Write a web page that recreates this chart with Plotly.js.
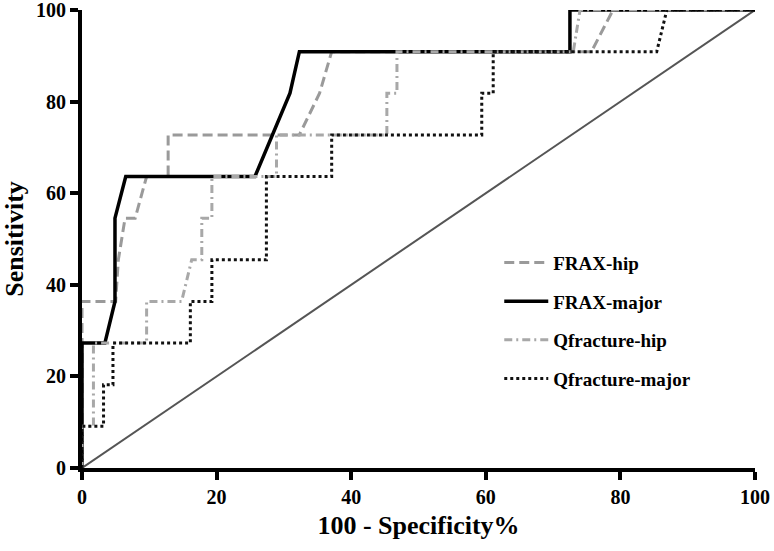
<!DOCTYPE html>
<html>
<head>
<meta charset="utf-8">
<script src="https://cdn.plot.ly/plotly-3.0.1.min.js"></script>
<style>
  html, body { margin: 0; padding: 0; background: #fff; }
  #draw { width: 774px; height: 551px; }
</style>
</head>
<body>
<div id="draw"></div>
<script>
// ROC curves, x = 100 - specificity (%), y = sensitivity (%)
const fraxHipX = [0, 0, 5.0, 5.4, 6.4, 7.9, 9.6, 12.8, 12.8, 32.3, 35.3, 37.1, 75.7, 78.9, 100]
const fraxHipY = [0, 36.36, 36.36, 45.45, 54.55, 54.55, 63.64, 63.64, 72.73, 72.73, 81.82, 90.91, 90.91, 100, 100]

const fraxMajorX = [0, 0, 3.4, 4.9, 4.9, 6.5, 25.7, 30.9, 32.3, 72.5, 72.5, 100]
const fraxMajorY = [0, 27.27, 27.27, 36.36, 54.55, 63.64, 63.64, 81.82, 90.91, 90.91, 100, 100]

const qfracHipX = [0, 0, 1.7, 1.7, 9.6, 9.6, 14.8, 16.3, 17.8, 17.8, 19.3, 19.3, 28.9, 28.9, 45.3, 45.3, 46.8, 46.8, 73.0, 74.0, 100]
const qfracHipY = [0, 9.09, 9.09, 27.27, 27.27, 36.36, 36.36, 45.45, 45.45, 54.55, 54.55, 63.64, 63.64, 72.73, 72.73, 81.82, 81.82, 90.91, 90.91, 100, 100]

const qfracMajorX = [0, 0, 3.2, 3.2, 4.6, 4.6, 16.1, 16.1, 19.3, 19.3, 27.4, 27.4, 37.1, 37.1, 59.4, 59.4, 61.1, 61.1, 85.4, 86.9, 100]
const qfracMajorY = [0, 9.09, 9.09, 18.18, 18.18, 27.27, 27.27, 36.36, 36.36, 45.45, 45.45, 63.64, 63.64, 72.73, 72.73, 81.82, 81.82, 90.91, 90.91, 100, 100]

const refX = [0, 100]
const refY = [0, 100]

const xTicks = [0, 20, 40, 60, 80, 100]
const yTicks = [0, 20, 40, 60, 80, 100]

const FONT = '"Liberation Serif", "Times New Roman", serif'

const main = () => {
  const traces = [
    {x: refX, y: refY, mode: 'lines', showlegend: false, hoverinfo: 'skip',
      line: {color: '#555555', width: 2}},
    {x: fraxHipX, y: fraxHipY, name: 'FRAX-hip', legendgroup: 'a',
      line: {color: '#9a9a9a', width: 3, dash: '10px,5px'}},
    {x: fraxMajorX, y: fraxMajorY, name: 'FRAX-major', legendgroup: 'b',
      line: {color: '#000000', width: 3.5}},
    {x: qfracHipX, y: qfracHipY, name: 'Qfracture-hip', legendgroup: 'c',
      line: {color: '#a8a8a8', width: 3, dash: '8px,4px,2px,4px'}},
    {x: qfracMajorX, y: qfracMajorY, name: 'Qfracture-major', legendgroup: 'd',
      line: {color: '#111111', width: 3, dash: '3px,3px'}},
  ].map(t => Object.assign({type: 'scatter', mode: 'lines'}, t))

  const axisBase = {
    range: [0, 100],
    showgrid: false,
    zeroline: false,
    showline: true,
    linecolor: '#000',
    linewidth: 4,
    ticks: 'outside',
    ticklen: 8,
    tickwidth: 4,
    tickcolor: '#000',
    tickfont: {family: FONT, size: 20, color: '#000', weight: 'bold'},
    ticklabeloverflow: 'allow',
    fixedrange: true,
  }

  const layout = {
    width: 774,
    height: 551,
    margin: {l: 82, r: 19, t: 10, b: 83},
    paper_bgcolor: '#fff',
    plot_bgcolor: '#fff',
    font: {family: FONT, color: '#000'},
    xaxis: Object.assign({}, axisBase, {
      tickvals: xTicks,
      title: {text: '<b>100 - Specificity%</b>', font: {family: FONT, size: 26, color: '#000'}, standoff: 10},
    }),
    yaxis: Object.assign({}, axisBase, {
      tickvals: yTicks,
      title: {text: '<b>Sensitivity</b>', font: {family: FONT, size: 26, color: '#000'}, standoff: 8},
    }),
    showlegend: true,
    legend: {
      x: 0.62, y: 0.49, xanchor: 'left', yanchor: 'top',
      bgcolor: 'rgba(0,0,0,0)',
      font: {family: FONT, size: 19, color: '#000', weight: 'bold'},
      tracegroupgap: 11,
      itemwidth: 44,
    },
  }

  Plotly.newPlot('draw', traces, layout, {displayModeBar: false, staticPlot: true})
}

main()
</script>
</body>
</html>
